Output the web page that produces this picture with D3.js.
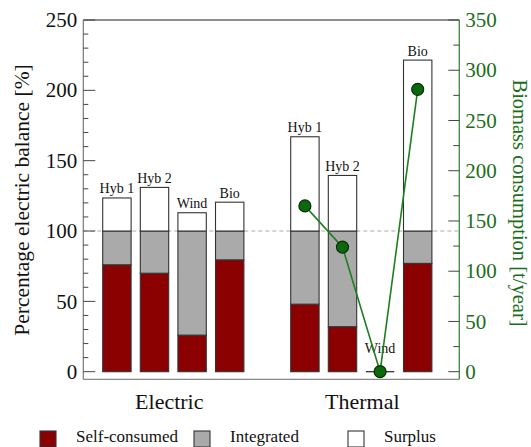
<!DOCTYPE html>
<html>
<head>
<meta charset="utf-8">
<script src="https://cdn.jsdelivr.net/npm/d3@7"></script>
<style>
  body { margin: 0; background: #fff; }
  svg { display: block; font-family: "Liberation Serif", "DejaVu Serif", serif; }
</style>
</head>
<body>
<svg id="chart" width="531" height="447"></svg>
<script>
// ---- data ----
const groups = ["Electric", "Thermal"];
const categories = ["Hyb 1", "Hyb 2", "Wind", "Bio"];
const selfConsumedElectric = [76, 70, 26, 79.5];
const integratedElectric   = [24, 30, 74, 20.5];
const surplusElectric      = [23.5, 31, 13, 20.5];
const selfConsumedThermal  = [48, 32, 0, 77];
const integratedThermal    = [52, 68, 0, 23];
const surplusThermal       = [67, 39.5, 0, 121.5];
const biomassThermal       = [165, 124, 0, 281];
const leftTicks  = [0, 50, 100, 150, 200, 250];
const rightTicks = [0, 50, 100, 150, 200, 250, 300, 350];
const seriesNames = ["Self-consumed", "Integrated", "Surplus"];
const seriesColors = ["#8b0000", "#aaaaaa", "#ffffff"];

// ---- build rows ----
const rows = [];
groups.forEach((g, gi) => {
  const sc = gi === 0 ? selfConsumedElectric : selfConsumedThermal;
  const ig = gi === 0 ? integratedElectric : integratedThermal;
  const sp = gi === 0 ? surplusElectric : surplusThermal;
  categories.forEach((c, i) => {
    rows.push({ key: g + "|" + c, group: g, cat: c, s: sc[i], i: ig[i], p: sp[i],
                bio: gi === 1 ? biomassThermal[i] : null });
  });
});
const slotKeys = [...rows.slice(0, 4).map(d => d.key), "gap", ...rows.slice(4).map(d => d.key)];

const svg = d3.select("#chart");
const L = 83.3, R = 459.3, T = 20, B = 379.3;

const x = d3.scaleBand().domain(slotKeys).range([98.1, 436.5]).paddingInner(0.245).paddingOuter(0.1225);
const y = d3.scaleLinear().domain([0, 250]).range([371.7, 20]);
const y2 = d3.scaleLinear().domain([0, 350]).range([371.7, 20]);

// frame
svg.append("line").attr("x1", L).attr("x2", R).attr("y1", T).attr("y2", T).attr("stroke", "#222").attr("stroke-width", 1.2);
svg.append("line").attr("x1", L).attr("x2", R).attr("y1", B).attr("y2", B).attr("stroke", "#888").attr("stroke-width", 1.2);

// dashed 100 line
svg.append("line").attr("x1", L).attr("x2", R).attr("y1", y(100)).attr("y2", y(100))
  .attr("stroke", "#aaa").attr("stroke-width", 1).attr("stroke-dasharray", "4,3");

// bars
const stackKeys = ["s", "i", "p"];
const stack = d3.stack().keys(stackKeys)(rows);
stack.forEach((layer, li) => {
  svg.append("g").selectAll("rect").data(layer).join("rect")
    .attr("x", d => x(d.data.key))
    .attr("width", x.bandwidth())
    .attr("y", d => y(d[1]))
    .attr("height", d => y(d[0]) - y(d[1]))
    .attr("fill", seriesColors[li])
    .attr("stroke", "#333")
    .attr("stroke-width", 1.1);
});
// zero-height bar outline (Thermal Wind)
rows.filter(d => d.s + d.i + d.p === 0).forEach(d => {
  svg.append("line").attr("x1", x(d.key)).attr("x2", x(d.key) + x.bandwidth())
    .attr("y1", y(0)).attr("y2", y(0)).attr("stroke", "#222").attr("stroke-width", 1.2);
});

// bar labels
svg.append("g").selectAll("text").data(rows).join("text")
  .attr("x", d => x(d.key) + x.bandwidth() / 2)
  .attr("y", d => { const t = d.s + d.i + d.p; return t === 0 ? y(0) - 19 : y(t) - 4.5; })
  .attr("text-anchor", "middle")
  .attr("font-size", 14)
  .attr("fill", "#111")
  .text(d => d.cat);

// left axis
const la = svg.append("g").attr("transform", `translate(${L},0)`);
la.append("line").attr("y1", T).attr("y2", B).attr("stroke", "#777").attr("stroke-width", 1.2);
la.selectAll("line.minor").data(d3.range(0, 251, 10)).join("line").attr("class", "minor")
  .attr("x1", 0).attr("x2", d => d % 50 === 0 ? 12 : 5)
  .attr("y1", d => y(d)).attr("y2", d => y(d)).attr("stroke", "#444").attr("stroke-width", 1);
la.selectAll("text").data(leftTicks).join("text")
  .attr("x", -6).attr("y", d => y(d)).attr("dy", "0.34em")
  .attr("text-anchor", "end").attr("font-size", 21).attr("fill", "#111").text(d => d);
svg.append("text").attr("transform", `translate(29,200) rotate(-90)`)
  .attr("text-anchor", "middle").attr("font-size", 21.5).attr("fill", "#111")
  .text("Percentage electric balance [%]");

// right axis
const green = "#1a6e1a";
const ra = svg.append("g").attr("transform", `translate(${R},0)`);
ra.append("line").attr("y1", T).attr("y2", B).attr("stroke", "#3a8a3a").attr("stroke-width", 1.3);
ra.selectAll("line.t").data(d3.range(0, 351, 25)).join("line").attr("class", "t")
  .attr("x1", 0).attr("x2", d => d % 50 === 0 ? -11 : -6)
  .attr("y1", d => y2(d)).attr("y2", d => y2(d)).attr("stroke", "#444").attr("stroke-width", 1);
ra.selectAll("text").data(rightTicks).join("text")
  .attr("x", 6).attr("y", d => y2(d)).attr("dy", "0.34em")
  .attr("text-anchor", "start").attr("font-size", 21).attr("fill", green).text(d => d);
svg.append("text").attr("transform", `translate(513,203) rotate(90)`)
  .attr("text-anchor", "middle").attr("font-size", 20.5).attr("fill", green)
  .text("Biomass consumption [t/year]");

// biomass line + points
const th = rows.filter(d => d.bio !== null);
svg.append("path").datum(th)
  .attr("d", d3.line().x(d => x(d.key) + x.bandwidth() / 2).y(d => y2(d.bio)))
  .attr("fill", "none").attr("stroke", "#1f7f1f").attr("stroke-width", 1.6);
svg.append("g").selectAll("circle").data(th).join("circle")
  .attr("cx", d => x(d.key) + x.bandwidth() / 2).attr("cy", d => y2(d.bio)).attr("r", 6)
  .attr("fill", "#0a6a0a").attr("stroke", "#0a2a0a").attr("stroke-width", 1.2);

// group labels
const gCenter = g => {
  const ks = rows.filter(d => d.group === g).map(d => d.key);
  return (x(ks[0]) + x(ks[ks.length - 1]) + x.bandwidth()) / 2;
};
svg.append("g").selectAll("text").data(groups).join("text")
  .attr("x", (d, i) => gCenter(d) + (i === 0 ? -4 : 1)).attr("y", 409)
  .attr("text-anchor", "middle").attr("font-size", 22).attr("fill", "#111").text(d => d);

// legend
const legX = [40, 194, 348];
const lg = svg.append("g").selectAll("g").data(seriesNames).join("g")
  .attr("transform", (d, i) => `translate(${legX[i]},431)`);
lg.append("rect").attr("width", 16).attr("height", 16)
  .attr("fill", (d, i) => seriesColors[i]).attr("stroke", "#333").attr("stroke-width", 1.1);
lg.append("text").attr("x", 36).attr("y", 11).attr("font-size", 17).attr("fill", "#111").text(d => d);
</script>
</body>
</html>
